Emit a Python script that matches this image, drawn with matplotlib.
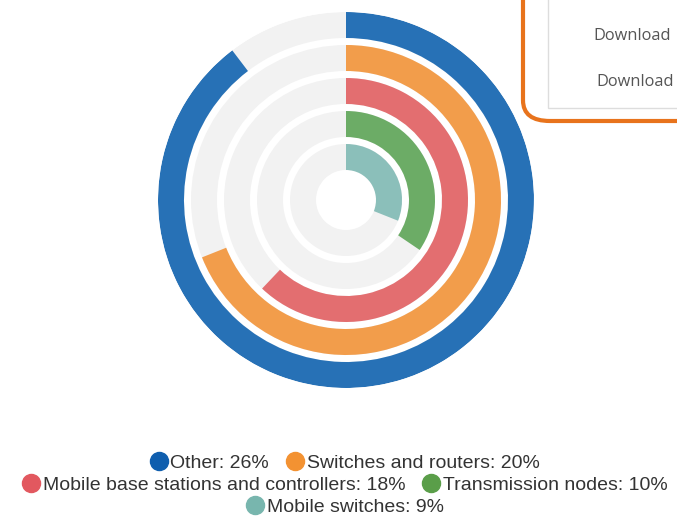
import numpy as np
import matplotlib
matplotlib.use("Agg")
import matplotlib.pyplot as plt
from matplotlib.lines import Line2D
from matplotlib.patches import FancyBboxPatch, Rectangle

categories = ["Other", "Switches and routers", "Mobile base stations and controllers",
              "Transmission nodes", "Mobile switches"]
values = [26, 20, 18, 10, 9]
ring_colors = ["#2771b6", "#f29d4b", "#e36e70", "#6cac66", "#8bbfba"]
legend_colors = ["#0f5eae", "#f39232", "#e2585f", "#5a9e49", "#78b6ae"]
scale_max = 29.0

W, H = 677, 517
fig = plt.figure(figsize=(W / 100, H / 100), dpi=100)
fig.patch.set_facecolor("white")

cx, cy, R = 346, 200, 188
ax = fig.add_axes([(cx - R) / W, (H - cy - R) / H, 2 * R / W, 2 * R / H], projection="polar")
ax.set_theta_zero_location("N")
ax.set_theta_direction(-1)
ax.set_ylim(0, R)
ax.axis("off")

outer = [188, 155, 122, 89, 56]
thick = 26
for v, col, ro in zip(values, ring_colors, outer):
    ax.bar(0, thick, width=2 * np.pi, bottom=ro - thick, align="edge",
           color="#f2f2f2", edgecolor="none")
    ax.bar(0, thick, width=2 * np.pi * v / scale_max, bottom=ro - thick, align="edge",
           color=col, edgecolor="none")

plt.rcParams["font.family"] = ["Liberation Sans", "DejaVu Sans"]

labels = [f"{c}: {v}%" for c, v in zip(categories, values)]
handles = [Line2D([], [], marker="o", linestyle="none", markersize=13,
                  markerfacecolor=c, markeredgecolor=c) for c in legend_colors]
rows = [[0, 1], [2, 3], [4]]
ys = [463, 485, 507]
for idx, y in zip(rows, ys):
    lg = fig.legend([handles[i] for i in idx], [labels[i] for i in idx],
                    loc="center", bbox_to_anchor=(345 / W, 1 - y / H),
                    ncol=len(idx), frameon=False, fontsize=14,
                    handletextpad=0.15, columnspacing=0.9, handlelength=0.9,
                    borderpad=0, borderaxespad=0)
    for t in lg.get_texts():
        t.set_color("#333333")

# screenshot overlay box at top right
box = FancyBboxPatch((523 / W, 1 - 121 / H), 300 / W, 200 / H,
                     boxstyle="round,pad=0,rounding_size=0.04",
                     transform=fig.transFigure, facecolor="white",
                     edgecolor="#e8731c", linewidth=3, clip_on=False)
fig.add_artist(box)
inner = Rectangle((548 / W, 1 - 108 / H), 300 / W, 200 / H, transform=fig.transFigure,
                  facecolor="white", edgecolor="#dddddd", linewidth=1)
fig.add_artist(inner)
for y, x in [(36, 593), (82, 596)]:
    fig.text(x / W, 1 - y / H, "Download", fontsize=11.8, color="#555555",
             va="center", ha="left", family=["Open Sans", "DejaVu Sans"])

fig.savefig("out.png", dpi=100, facecolor="white")
